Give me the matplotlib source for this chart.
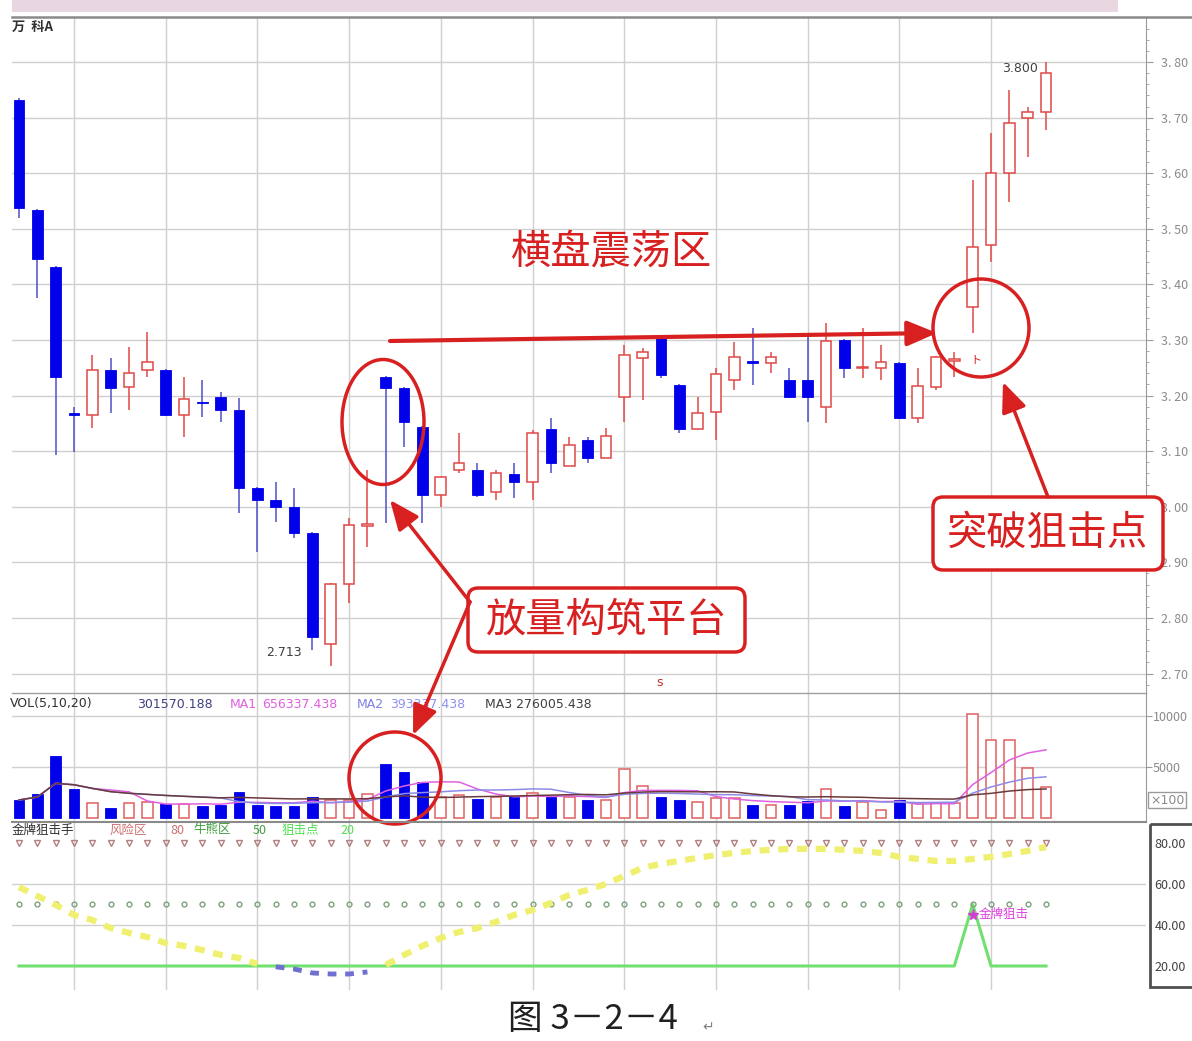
import numpy as np
import pandas as pd
import matplotlib
matplotlib.use("Agg")
import matplotlib.pyplot as plt
from matplotlib.patches import Ellipse, FancyBboxPatch, Rectangle

plt.rcParams['font.family'] = ['Noto Sans CJK SC', 'DejaVu Sans']

# daily K-line, 万科A
opens = [3.732, 3.534, 3.431, 3.167, 3.165, 3.246, 3.215, 3.246, 3.246, 3.165,
         3.188, 3.197, 3.174, 3.034, 3.012, 3.000, 2.953, 2.753, 2.861, 2.966,
         3.233, 3.214, 3.144, 3.021, 3.066, 3.066, 3.027, 3.059, 3.045, 3.140,
         3.073, 3.120, 3.088, 3.198, 3.268, 3.304, 3.219, 3.140, 3.171, 3.228,
         3.261, 3.259, 3.228, 3.228, 3.180, 3.300, 3.249, 3.250, 3.259, 3.160,
         3.216, 3.263, 3.359, 3.471, 3.600, 3.699, 3.710]
highs = [3.735, 3.536, 3.433, 3.179, 3.273, 3.268, 3.287, 3.314, 3.248, 3.233,
         3.228, 3.206, 3.196, 3.036, 3.045, 3.034, 2.955, 2.862, 2.980, 3.066,
         3.235, 3.216, 3.146, 3.056, 3.133, 3.079, 3.066, 3.079, 3.138, 3.160,
         3.126, 3.126, 3.142, 3.291, 3.286, 3.306, 3.221, 3.198, 3.250, 3.296,
         3.322, 3.279, 3.250, 3.309, 3.331, 3.302, 3.322, 3.291, 3.261, 3.250,
         3.271, 3.278, 3.588, 3.672, 3.750, 3.719, 3.800]
lows = [3.519, 3.376, 3.093, 3.099, 3.142, 3.169, 3.174, 3.233, 3.163, 3.126,
        3.162, 3.152, 2.989, 2.919, 2.973, 2.944, 2.742, 2.713, 2.827, 2.928,
        2.971, 3.108, 2.971, 3.000, 3.061, 3.018, 3.012, 3.016, 3.012, 3.061,
        3.073, 3.079, 3.088, 3.153, 3.192, 3.232, 3.133, 3.138, 3.120, 3.210,
        3.219, 3.241, 3.196, 3.153, 3.151, 3.232, 3.232, 3.228, 3.158, 3.151,
        3.210, 3.233, 3.313, 3.440, 3.548, 3.629, 3.678]
closes = [3.537, 3.446, 3.233, 3.165, 3.246, 3.214, 3.241, 3.260, 3.165, 3.194,
          3.186, 3.174, 3.034, 3.012, 3.000, 2.953, 2.766, 2.861, 2.967, 2.968,
          3.214, 3.153, 3.021, 3.054, 3.079, 3.021, 3.061, 3.045, 3.133, 3.079,
          3.111, 3.088, 3.127, 3.273, 3.278, 3.237, 3.140, 3.169, 3.239, 3.269,
          3.259, 3.270, 3.198, 3.198, 3.298, 3.250, 3.251, 3.261, 3.160, 3.217,
          3.269, 3.265, 3.467, 3.600, 3.690, 3.710, 3.780]
# volume (x100)
volumes = [1765, 2353, 6078, 2843, 1471, 980, 1471, 1569, 1373, 1373,
           1176, 1275, 2549, 1275, 1176, 1176, 2059, 1765, 1765, 2353,
           5294, 4510, 3529, 2059, 2255, 1863, 2059, 2157, 2451, 2059,
           2059, 1765, 1765, 4804, 3137, 2059, 1765, 1569, 1961, 1961,
           1275, 1275, 1275, 1667, 2843, 1176, 1569, 784, 1765, 1471,
           1471, 1471, 10196, 7647, 7647, 4902, 3016]
# 金牌狙击手 main line
jjsj = [58.5, 54.1, 49.8, 44.9, 42.4, 38.5, 36.1, 34.1, 31.2, 29.8,
        27.8, 25.4, 23.9, 21.0, 19.6, 18.5, 16.6, 16.1, 16.1, 17.1,
        20.5, 25.4, 29.8, 33.7, 36.6, 38.5, 41.5, 44.9, 47.3, 50.7,
        54.6, 57.1, 60.0, 63.9, 67.8, 69.8, 71.2, 72.7, 74.1, 75.1,
        76.1, 76.6, 77.1, 77.1, 77.1, 76.6, 76.1, 75.1, 73.2, 72.2,
        71.2, 71.2, 72.2, 73.2, 74.6, 76.1, 78.0]
# 狙击点 signal line
snipe = [20, 20, 20, 20, 20, 20, 20, 20, 20, 20,
         20, 20, 20, 20, 20, 20, 20, 20, 20, 20,
         20, 20, 20, 20, 20, 20, 20, 20, 20, 20,
         20, 20, 20, 20, 20, 20, 20, 20, 20, 20,
         20, 20, 20, 20, 20, 20, 20, 20, 20, 20,
         20, 20, 50, 20, 20, 20, 20]
risk_level = 80
bull_level = 50
price_ticks = [2.7, 2.8, 2.9, 3.0, 3.1, 3.2, 3.3, 3.4, 3.5, 3.6, 3.7, 3.8]
vol_ticks = [5000, 10000]
ind_ticks = [20, 40, 60, 80]

RED = '#e04848'
BLUE = '#0000ea'
ARED = '#d82020'
GRID = '#d0d0d0'

W, H = 1192, 1041
fig = plt.figure(figsize=(W / 100, H / 100), dpi=100)
fig.patch.set_facecolor('white')


def box(x0, y0, x1, y1):
    return [x0 / W, 1 - y1 / H, (x1 - x0) / W, (y1 - y0) / H]


ax = fig.add_axes(box(12, 17, 1146, 693))
axv = fig.add_axes(box(12, 693, 1146, 822))
axi = fig.add_axes(box(12, 822, 1146, 990))

x = np.arange(len(opens))
grid_x = x[3::5]
for a in (ax, axv, axi):
    a.set_xlim(-0.38, 61.45)
    a.set_xticks([])
    for s in ('left', 'top', 'bottom'):
        a.spines[s].set_visible(False)
    a.spines['right'].set_color('#9a9a9a')
    for gx in grid_x:
        a.axvline(gx, color=GRID, lw=1, zorder=0)

# ---- price panel
for i in x:
    o, h, l, c = opens[i], highs[i], lows[i], closes[i]
    if c >= o:
        ax.vlines(i, l, h, color=RED, lw=1.1, zorder=2)
        ax.bar(i, max(c - o, 0.003), 0.58, bottom=o, facecolor='white',
               edgecolor=RED, lw=1.1, zorder=3)
    else:
        ax.vlines(i, l, h, color='#5050c8', lw=1.1, zorder=2)
        ax.bar(i, max(o - c, 0.003), 0.58, bottom=c, facecolor=BLUE,
               edgecolor=BLUE, lw=0.6, zorder=3)
ax.set_ylim(2.665, 3.881)
ax.yaxis.tick_right()
ax.set_yticks(price_ticks)
ax.set_yticklabels([f"{t:.2f}".replace('.', '. ') for t in price_ticks])
ax.set_yticks(np.arange(2.68, 3.87, 0.02), minor=True)
ax.tick_params(axis='y', which='major', length=5, color='#9a9a9a',
               labelcolor='#8a8a8a', labelsize=9, pad=6)
ax.tick_params(axis='y', which='minor', length=2, color='#9a9a9a')
for t in price_ticks:
    ax.axhline(t, color=GRID, lw=1, zorder=0)

imax = int(np.argmax(highs))
imin = int(np.argmin(lows))
ax.text(imax - 2.4, highs[imax] - 0.012, f"{highs[imax]:.3f}", color='#404040',
        fontsize=9, family='DejaVu Sans', va='center')
ax.text(imin - 3.5, lows[imin] + 0.025, f"{lows[imin]:.3f}", color='#404040',
        fontsize=9, family='DejaVu Sans', va='center')
ax.text(52.2, lows[52] - 0.05, 'ト', color=ARED, fontsize=8, ha='center', va='center')

# ---- volume panel
vol = pd.Series(volumes, dtype=float)
for i in x:
    if closes[i] >= opens[i]:
        axv.bar(i, volumes[i], 0.58, facecolor='white', edgecolor='#e06060', lw=1.1, zorder=3)
    else:
        axv.bar(i, volumes[i], 0.58, facecolor=BLUE, edgecolor=BLUE, lw=0.6, zorder=3)
axv.plot(x, vol.rolling(5, min_periods=1).mean(), color='#e060e0', lw=1.1, zorder=4)
axv.plot(x, vol.rolling(10, min_periods=1).mean(), color='#8c8ce8', lw=1.1, zorder=4)
axv.plot(x, vol.rolling(20, min_periods=1).mean(), color='#6a3a3a', lw=1.1, zorder=4)
axv.set_ylim(-392, 12255)
axv.yaxis.tick_right()
axv.set_yticks(vol_ticks)
axv.set_yticklabels([str(v) for v in vol_ticks])
axv.tick_params(axis='y', length=4, color='#9a9a9a', labelcolor='#8a8a8a',
                labelsize=9, pad=1)
for v in vol_ticks:
    axv.axhline(v, color=GRID, lw=1, zorder=0)

# ---- 金牌狙击手 panel
jj = np.array(jjsj, dtype=float)
axi.plot(x, np.where(jj >= 20, jj, np.nan), color='#f0f070', lw=4.5,
         linestyle=(0, (1.6, 1.4)), solid_capstyle='butt', zorder=3)
axi.plot(x, np.where(jj < 20, jj, np.nan), color='#7070d0', lw=3.5,
         linestyle=(0, (1.8, 1.8)), zorder=3)
axi.plot(x, snipe, color='#70e070', lw=2.2, zorder=2)
axi.plot(x, [risk_level] * len(x), ls='none', marker='v', ms=4,
         color='#b08080', mfc='none', mew=1, zorder=2)
axi.plot(x, [bull_level] * len(x), ls='none', marker='o', ms=3.5,
         color='#80a080', mfc='none', mew=1, zorder=2)
isig = int(np.argmax(snipe))
axi.plot(isig, snipe[isig] - 5, marker='*', ms=8, color='#d040d0', zorder=5)
axi.text(isig + 0.3, snipe[isig] - 5, '金牌狙击', color='#e040e0', fontsize=9,
         va='center', zorder=5)
axi.set_ylim(8.3, 90.2)
axi.yaxis.tick_right()
axi.set_yticks(ind_ticks)
axi.set_yticklabels([f"{t:.2f}" for t in ind_ticks])
axi.tick_params(axis='y', length=0, labelcolor='#404040', labelsize=9, pad=6)
axi.spines['right'].set_visible(False)
for t in (40, 60):
    axi.axhline(t, color=GRID, lw=1, zorder=0)

# ---- overlay for frame, captions and marks drawn on the picture
ov = fig.add_axes([0, 0, 1, 1])
ov.set_xlim(0, W)
ov.set_ylim(H, 0)
ov.axis('off')
ov.patch.set_alpha(0)

ov.add_patch(Rectangle((12, 0), 1106, 12, color='#e8d6e1', lw=0))
ov.plot([12, W], [17, 17], color='#8a8a8a', lw=1.8)
ov.plot([12, 1146], [693, 693], color='#a0a0a0', lw=1)
ov.plot([12, 1146], [822, 822], color='#8a8a8a', lw=1.5)
ov.add_patch(Rectangle((1150, 824), 60, 163, fill=False, ec='#505050', lw=2))
ov.text(1150, 800, '×100', fontsize=9, color='#8a8a8a', va='center',
        family='DejaVu Sans',
        bbox=dict(boxstyle='square,pad=0.15', fc='white', ec='#9a9a9a', lw=1))
ov.text(12, 27, '万  科A', fontsize=9.5, weight='bold', color='#303030', va='center')

# headers
hy = 704
for tx, s, c in [(10, 'VOL(5,10,20)', '#303030'), (137, '301570.188', '#404080'),
                 (230, 'MA1', '#e060e0'), (262, '656337.438', '#e060e0'),
                 (357, 'MA2', '#8080e0'), (390, '393337.438', '#9090f0'),
                 (485, 'MA3 276005.438', '#404040')]:
    ov.text(tx, hy, s, fontsize=9, color=c, va='center', family='DejaVu Sans')
for tx, s, c in [(12, '金牌狙击手', '#303030'), (110, '风险区', '#d07070'),
                 (170, '80', '#d07070'), (193, '牛熊区', '#40a040'),
                 (253, '50', '#40a040'), (282, '狙击点', '#50e050'),
                 (340, '20', '#50e050')]:
    ov.text(tx, 830, s, fontsize=9, color=c, va='center')
ov.text(660, 682, 's', fontsize=9, color='#c03030', ha='center', va='center',
        family='DejaVu Sans')

# annotations
ov.text(612, 252, '横盘震荡区', fontsize=29, color=ARED, ha='center', va='center')
ov.annotate('', xy=(937, 333), xytext=(390, 341),
            arrowprops=dict(arrowstyle='-|>,head_length=1.3,head_width=0.55',
                            lw=3, color=ARED, shrinkA=0, shrinkB=0, mutation_scale=14))
ov.add_patch(Ellipse((383, 422), 82, 125, fill=False, ec=ARED, lw=2.5))
ov.add_patch(Ellipse((981, 328), 96, 98, fill=False, ec=ARED, lw=2.5))
ov.add_patch(Ellipse((395, 778), 92, 92, fill=False, ec=ARED, lw=2.5))

ov.add_patch(FancyBboxPatch((468, 588), 277, 64,
                            boxstyle='round,pad=0,rounding_size=10',
                            fc='white', ec=ARED, lw=2.5))
ov.text(606, 620, '放量构筑平台', fontsize=29, color=ARED, ha='center', va='center')
for tip in [(390, 500), (413, 735)]:
    ov.annotate('', xy=tip, xytext=(470, 602),
                arrowprops=dict(arrowstyle='-|>,head_length=1.3,head_width=0.55',
                                lw=2.5, color=ARED, shrinkA=0, shrinkB=0,
                                mutation_scale=14))

ov.add_patch(FancyBboxPatch((933, 497), 230, 73,
                            boxstyle='round,pad=0,rounding_size=10',
                            fc='white', ec=ARED, lw=2.5))
ov.text(1047, 533, '突破狙击点', fontsize=29, color=ARED, ha='center', va='center')
ov.annotate('', xy=(1003, 382), xytext=(1048, 497),
            arrowprops=dict(arrowstyle='-|>,head_length=1.3,head_width=0.55',
                            lw=2.5, color=ARED, shrinkA=0, shrinkB=0, mutation_scale=14))

ov.text(508, 1020, '图 3－2－4', fontsize=25, color='#202020', va='center')
ov.text(702, 1027, '↵', fontsize=10, color='#808080', va='center', family='DejaVu Sans')

fig.savefig('out.png', dpi=100)
